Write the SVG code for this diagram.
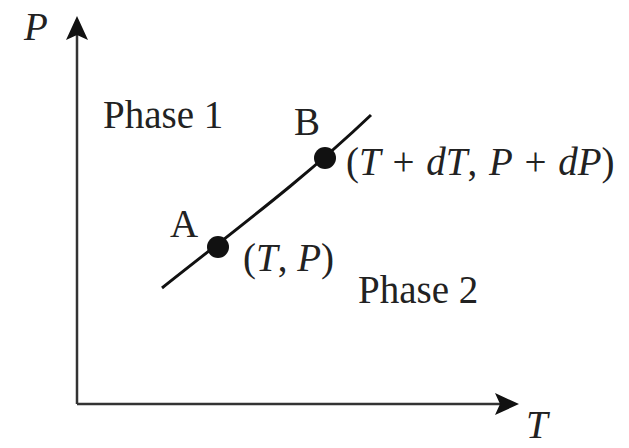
<svg xmlns="http://www.w3.org/2000/svg" width="629" height="448" viewBox="0 0 629 448">
<style>
.t{font-family:"Liberation Serif","Times New Roman",serif;font-size:39px;fill:#222}
.i{font-style:italic}
.m{word-spacing:2px}
.ax{stroke:#333;stroke-width:2.5;fill:none}
</style>
<rect width="629" height="448" fill="#fff"/>
<g id="axes">
<path class="ax" d="M77,404 L77,30"/>
<path d="M77,16 L88,40 L77,35 L66,40 Z" fill="#111"/>
<path class="ax" d="M77,404 L506,404"/>
<path d="M519,404 L495,415 L500,404 L495,393 Z" fill="#111"/>
</g>
<g id="connectors">
<path d="M162,288 C235,230 305,178 371,115" stroke="#111" stroke-width="3" fill="none"/>
</g>
<g id="nodeA"><circle cx="218" cy="247" r="11" fill="#111"/></g>
<g id="nodeB"><circle cx="325" cy="158" r="11" fill="#111"/></g>
<g id="labels">
<text class="t i" x="24" y="40">P</text>
<text class="t i" x="526" y="438">T</text>
<text class="t" x="103" y="128">Phase 1</text>
<text class="t" x="358" y="303">Phase 2</text>
<text class="t" x="294" y="135">B</text>
<text class="t" x="170" y="237">A</text>
<text class="t m" x="346" y="175">(<tspan class="i">T</tspan> + <tspan class="i">dT</tspan>, <tspan class="i">P</tspan> + <tspan class="i">dP</tspan>)</text>
<text class="t" x="243" y="271">(<tspan class="i">T</tspan>, <tspan class="i">P</tspan>)</text>
</g>
</svg>
